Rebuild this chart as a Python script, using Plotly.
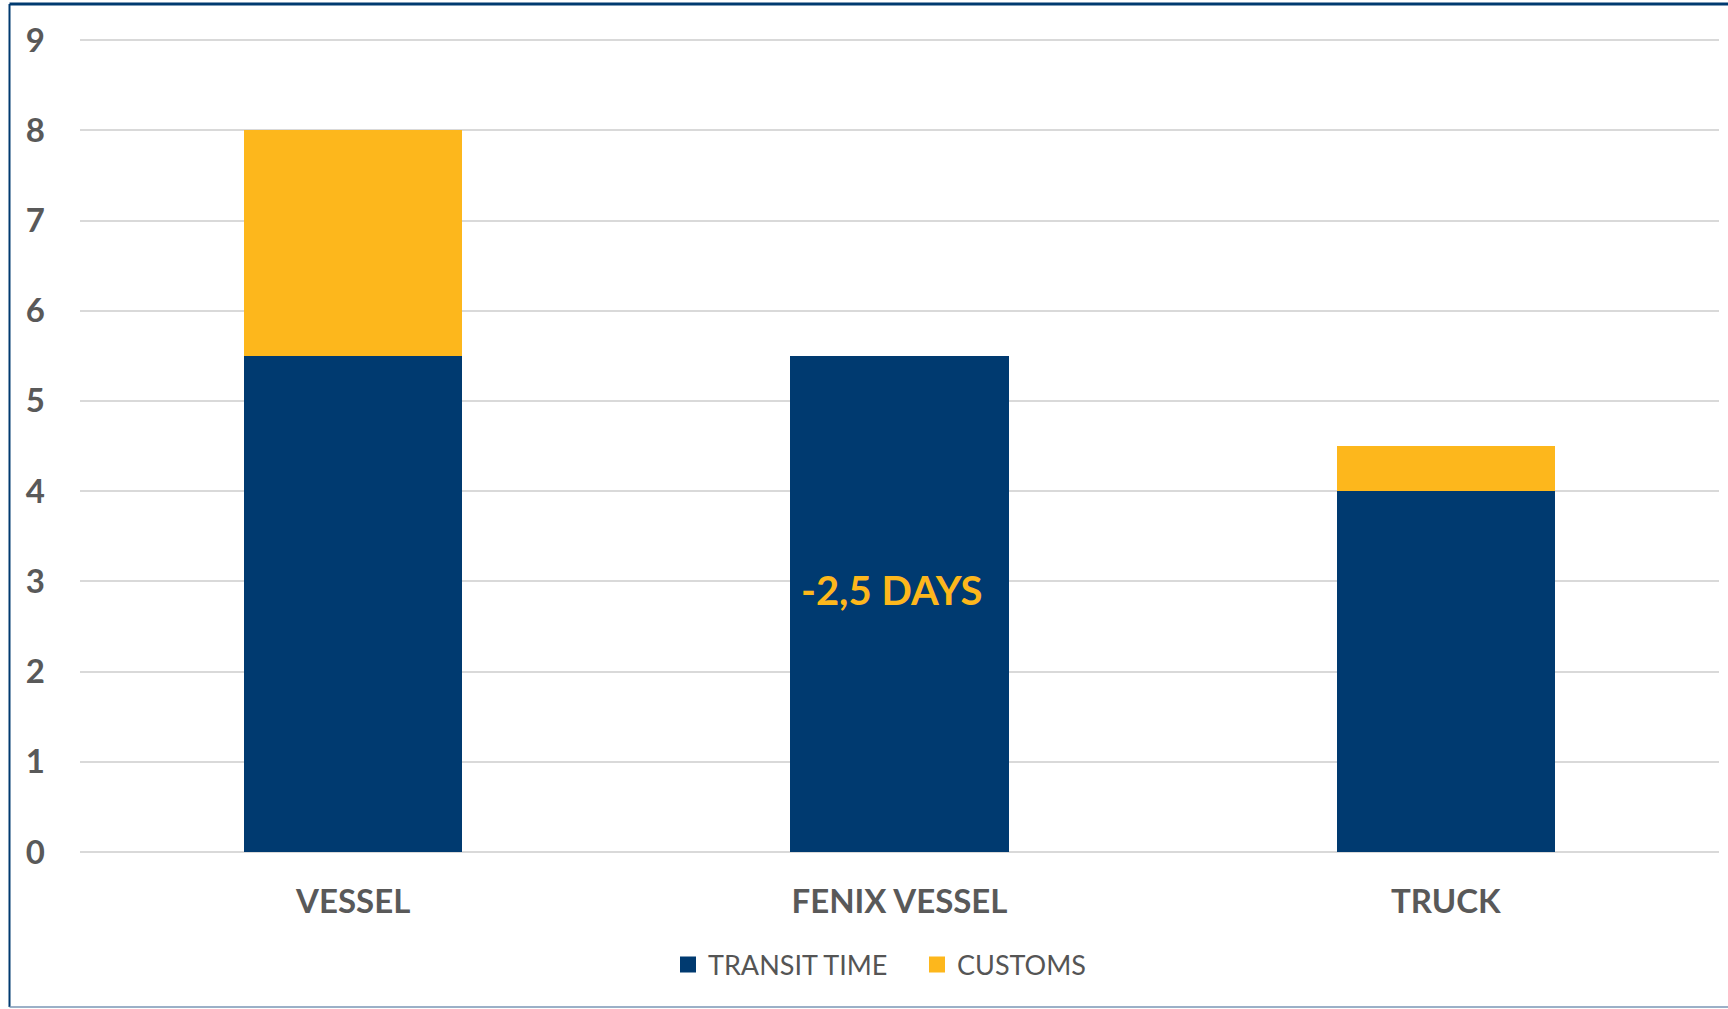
import plotly.graph_objects as go

categories = ["VESSEL", "FENIX VESSEL", "TRUCK"]
transit_time = [5.5, 5.5, 4.0]
customs = [2.5, 0.0, 0.5]
y_ticks = [0, 1, 2, 3, 4, 5, 6, 7, 8, 9]
annotation_text = "-2,5 DAYS"

NAVY = "#003A70"
YELLOW = "#FDB71C"
GRAY = "#595959"
FONT = "Lato"

W, H = 1728, 1009
L, R, T, B = 80, 9, 39, 157
pw, ph = W - L - R, H - T - B

def px(x):
    return (x - L) / pw

def py(y):
    return (H - B - y) / ph

fig = go.Figure()
fig.add_trace(go.Bar(name="TRANSIT TIME", x=categories, y=transit_time, showlegend=False,
                     marker=dict(color=NAVY, line=dict(width=0))))
fig.add_trace(go.Bar(name="CUSTOMS", x=categories, y=customs, showlegend=False,
                     marker=dict(color=YELLOW, line=dict(width=0))))
# legend entries with larger square symbols
fig.add_trace(go.Scatter(name="TRANSIT TIME", x=[None], y=[None], mode="markers",
                         marker=dict(symbol="square", size=21, color=NAVY)))
fig.add_trace(go.Scatter(name="CUSTOMS", x=[None], y=[None], mode="markers",
                         marker=dict(symbol="square", size=21, color=YELLOW)))

fig.add_annotation(x=categories[1], y=2.9, xref="x", yref="y",
                   text="<b>" + annotation_text + "</b>", showarrow=False,
                   xshift=-8,
                   font=dict(family=FONT, size=40, color=YELLOW))

# frame
fig.add_shape(type="line", xref="paper", yref="paper", x0=px(9.5), x1=px(9.5),
              y0=py(4), y1=py(1007), line=dict(color=NAVY, width=2))
fig.add_shape(type="line", xref="paper", yref="paper", x0=px(9.5), x1=px(1728),
              y0=py(4), y1=py(4), line=dict(color=NAVY, width=3))
fig.add_shape(type="line", xref="paper", yref="paper", x0=px(9.5), x1=px(1728),
              y0=py(1007), y1=py(1007), line=dict(color="#7A96B5", width=1.5))

fig.update_layout(
    width=W, height=H,
    barmode="stack", bargap=0.6,
    margin=dict(l=L, r=R, t=T, b=B, autoexpand=False),
    paper_bgcolor="white", plot_bgcolor="white",
    font=dict(family=FONT, color=GRAY),
    showlegend=True,
    legend=dict(orientation="h", x=px(668), xanchor="left", y=py(965), yanchor="middle",
                font=dict(family=FONT, size=27, color="#555555"), itemwidth=30,
                itemsizing="trace", entrywidth=204, entrywidthmode="pixels",
                traceorder="normal", bgcolor="rgba(0,0,0,0)"),
    xaxis=dict(tickfont=dict(family=FONT, size=33, color=GRAY, weight="bold"),
               showgrid=False, showline=False, ticks="", ticklabelstandoff=27),
    yaxis=dict(range=[0, 9.012], tickvals=y_ticks, ticktext=[str(v) for v in y_ticks],
               tickfont=dict(family=FONT, size=33, color=GRAY, weight="bold"),
               showgrid=True, gridcolor="#D9D9D9", gridwidth=2,
               zeroline=True, zerolinecolor="#D9D9D9", zerolinewidth=2,
               showline=False, ticks="", ticklabelstandoff=34),
)

fig.write_html("out.html", config={"displayModeBar": False},
               post_script="document.body.style.margin='0';")
